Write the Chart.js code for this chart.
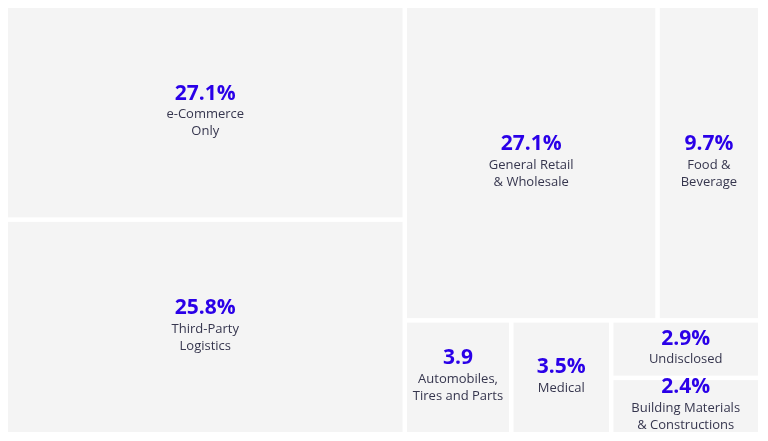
<!DOCTYPE html>
<html>
<head>
<meta charset="utf-8">
<script src="https://cdn.jsdelivr.net/npm/chart.js@4.4.0/dist/chart.umd.min.js"></script>
<style>
html, body { margin: 0; padding: 0; background: #fff; }
#wrap { width: 768px; height: 441px; }
</style>
</head>
<body>
<div id="wrap"><canvas id="chart"></canvas></div>
<script>
// sectors, in the order the treemap lays them out
var sectors = [
	['e-Commerce', 'Only'],
	['Third-Party', 'Logistics'],
	['General Retail', '& Wholesale'],
	['Food &', 'Beverage'],
	['Automobiles,', 'Tires and Parts'],
	['Medical'],
	['Undisclosed'],
	['Building Materials', '& Constructions']
];
// tile sizes
var tileValues = [26.4, 26.5, 24.6, 10.0, 3.75, 3.52, 2.65, 2.6];
// printed labels
var shareLabels = ['27.1%', '25.8%', '27.1%', '9.7%', '3.9', '3.5%', '2.9%', '2.4%'];

// d3 style squarify (golden ratio)
function squarify(values, x0, y0, x1, y1){
	var ratio = (1 + Math.sqrt(5)) / 2;
	var out = [];
	var value = values.reduce((a, b) => a + b, 0);
	var i0 = 0, i1 = 0, n = values.length;
	while(i0 < n){
		var dx = x1 - x0, dy = y1 - y0;
		var sum = values[i1++];
		var minV = sum, maxV = sum;
		var alpha = Math.max(dy / dx, dx / dy) / (value * ratio);
		var beta = sum * sum * alpha;
		var minRatio = Math.max(maxV / beta, beta / minV);
		for(; i1 < n; i1++){
			var v = values[i1];
			sum += v;
			if(v < minV) minV = v;
			if(v > maxV) maxV = v;
			beta = sum * sum * alpha;
			var r = Math.max(maxV / beta, beta / minV);
			if(r > minRatio){ sum -= v; break; }
			minRatio = r;
		}
		var i;
		if(dx < dy){
			var h = dy * sum / value, x = x0;
			for(i = i0; i < i1; i++){
				var w = dx * values[i] / sum;
				out[i] = {x0: x, y0: y0, x1: x + w, y1: y0 + h};
				x += w;
			}
			y0 += h;
		}else{
			var w2 = dx * sum / value, y = y0;
			for(i = i0; i < i1; i++){
				var h2 = dy * values[i] / sum;
				out[i] = {x0: x0, y0: y, x1: x0 + w2, y1: y + h2};
				y += h2;
			}
			x0 += w2;
		}
		value -= sum;
		i0 = i1;
	}
	return out;
}

var treemapPlugin = {
	id: 'treemap',
	afterDatasetsDraw(chart){
		var ctx = chart.ctx;
		var area = chart.chartArea;
		var xs = chart.scales.x, ys = chart.scales.y;
		var aw = area.right - area.left, ah = area.bottom - area.top;
		var tiles = squarify(tileValues, 0, 0, aw, ah);
		var gap = 2.25;

		ctx.save();
		tiles.forEach((t, i) => {
			var left = xs.getPixelForValue(t.x0 / aw) + gap;
			var right = xs.getPixelForValue(t.x1 / aw) - gap;
			var top = ys.getPixelForValue(t.y0 / ah) + gap;
			var bottom = ys.getPixelForValue(t.y1 / ah) - gap;
			ctx.fillStyle = '#f4f4f4';
			ctx.fillRect(left, top, right - left, bottom - top);

			var lines = sectors[i];
			var cx = (left + right) / 2;
			var cy = (top + bottom) / 2;
			var blockSpan = 21 + (lines.length - 1) * 17;
			var py = cy - blockSpan / 2;

			ctx.textAlign = 'center';
			ctx.textBaseline = 'middle';
			ctx.fillStyle = '#2a00e8';
			ctx.font = 'bold 21px "Open Sans", sans-serif';
			ctx.fillText(shareLabels[i], cx, py);

			ctx.fillStyle = '#36364e';
			ctx.font = '13px "Open Sans", sans-serif';
			lines.forEach((s, k) => {
				ctx.fillText(s, cx, py + 21 + k * 17);
			});
		});
		ctx.restore();
	}
};

var ctx = document.getElementById('chart').getContext('2d');
var mychart = new Chart(ctx, {
	type: 'scatter',
	data: { datasets: [{ data: [] }] },
	options: {
		responsive: true,
		maintainAspectRatio: false,
		animation: false,
		layout: { padding: { left: 5.75, right: 7.75, top: 5.75, bottom: 6.75 } },
		scales: {
			x: { type: 'linear', min: 0, max: 1, display: false },
			y: { type: 'linear', min: 0, max: 1, reverse: true, display: false }
		},
		plugins: {
			legend: { display: false },
			tooltip: { enabled: false }
		}
	},
	plugins: [treemapPlugin]
});
</script>
</body>
</html>
